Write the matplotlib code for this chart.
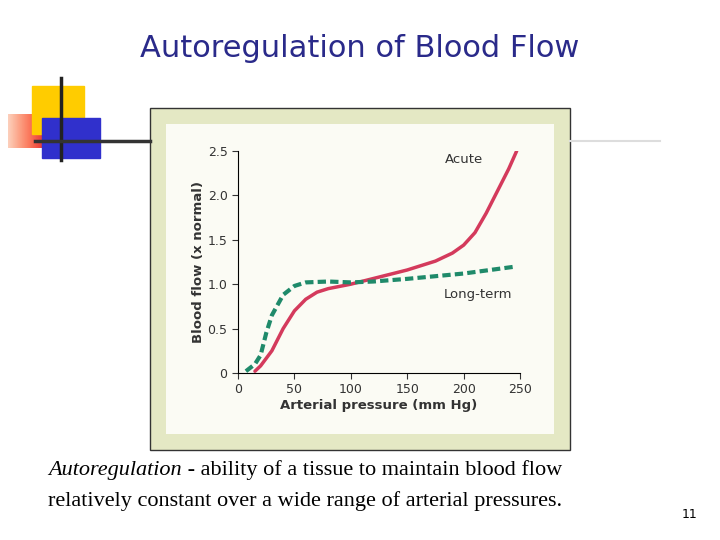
import numpy as np
import matplotlib.pyplot as plt
from matplotlib.patches import Rectangle
from matplotlib.lines import Line2D

# --- Data ---
acute_p = [15, 20, 30, 40, 50, 60, 70, 80, 100, 125, 150, 175, 190, 200, 210, 220, 230, 240, 247]
acute_f = [0.02, 0.08, 0.25, 0.5, 0.7, 0.83, 0.91, 0.95, 1.0, 1.08, 1.16, 1.26, 1.35, 1.44, 1.58, 1.8, 2.05, 2.3, 2.5]
long_p = [7, 15, 20, 25, 30, 40, 50, 60, 80, 100, 120, 150, 200, 247]
long_f = [0.02, 0.1, 0.2, 0.45, 0.65, 0.88, 0.98, 1.02, 1.03, 1.02, 1.03, 1.06, 1.12, 1.2]
x_ticks = [0, 50, 100, 150, 200, 250]
y_ticks = [0, 0.5, 1.0, 1.5, 2.0, 2.5]
y_labels = ["0", "0.5", "1.0", "1.5", "2.0", "2.5"]

fig = plt.figure(figsize=(7.2, 5.4), dpi=100)
fig.patch.set_facecolor("white")

# --- Slide decoration ---
deco = fig.add_axes([0, 0, 1, 1])
deco.axis("off")
deco.add_patch(Rectangle((32, 86), 52, 48, color="#ffcc00"))
deco.add_patch(Rectangle((42, 118), 58, 40, color="#3030cc"))
grad = np.linspace(0, 1, 64).reshape(1, -1)
deco.imshow(grad, extent=(8, 55, 148, 114), cmap="Reds", vmin=-0.3, vmax=1.2, aspect="auto", alpha=0.9)
deco.add_line(Line2D([61, 61], [78, 160], color="#222222", lw=2.5))
deco.add_line(Line2D([35, 150], [141, 141], color="#333333", lw=2.5))
deco.add_line(Line2D([570, 660], [141, 141], color="#dddddd", lw=1.5))
deco.add_patch(Rectangle((150, 108), 420, 342, facecolor="#e4e8c4", edgecolor="#333333", lw=1))
deco.add_patch(Rectangle((166, 124), 388, 310, facecolor="#fbfbf4", edgecolor="none"))
deco.set_xlim(0, 720)
deco.set_ylim(540, 0)

fig.text(0.5, 0.91, "Autoregulation of Blood Flow", ha="center", va="center",
         fontsize=22, color="#2a2a8a")
cap1 = fig.text(0.067, 0.12, "Autoregulation", fontsize=16, style="italic", family="Liberation Serif")
fig.text(0, 0, " - ability of a tissue to maintain blood flow", fontsize=16, family="Liberation Serif")
fig.texts[-1].remove()
deco.annotate(" - ability of a tissue to maintain blood flow", xy=(1, 0), xycoords=cap1,
              va="bottom", fontsize=16, family="Liberation Serif")
fig.text(0.067, 0.063, "relatively constant over a wide range of arterial pressures.",
         fontsize=16, family="Liberation Serif")
fig.text(0.947, 0.04, "11", fontsize=9)

# --- Chart ---
ax = fig.add_axes([0.3306, 0.3093, 0.3917, 0.4111])
ax.set_facecolor("none")
ax.plot(acute_p, acute_f, color="#d43a5c", lw=2.5, solid_capstyle="round")
ax.plot(long_p, long_f, color="#1f8a6a", lw=3, ls=(0, (2, 1)))
ax.set_xlim(0, 250)
ax.set_ylim(0, 2.5)
ax.set_xticks(x_ticks)
ax.set_yticks(y_ticks)
ax.set_yticklabels(y_labels)
ax.tick_params(labelsize=9, length=4, color="#333333", labelcolor="#333333")
for s in ["top", "right"]:
    ax.spines[s].set_visible(False)
ax.set_xlabel("Arterial pressure (mm Hg)", fontsize=9.5, fontweight="bold", color="#333333", labelpad=2)
ax.set_ylabel("Blood flow (x normal)", fontsize=9.5, fontweight="bold", color="#333333", labelpad=2)
ax.text(200, 2.37, "Acute", fontsize=9.5, color="#333333", ha="center")
ax.text(182, 0.85, "Long-term", fontsize=9.5, color="#333333")

fig.savefig("out.png", dpi=100)
